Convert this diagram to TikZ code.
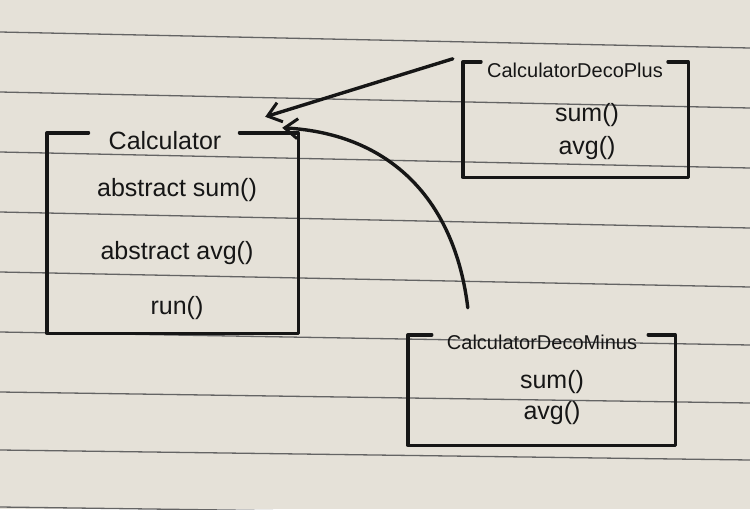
\documentclass[tikz,border=0pt]{standalone}
\usepackage{fontspec}
\setmainfont{Liberation Sans}
\usetikzlibrary{arrows.meta,calc}
\definecolor{paper}{RGB}{229,225,216}
\definecolor{rulegray}{RGB}{100,100,100}
\definecolor{ink}{RGB}{22,22,22}
\begin{document}
\begin{tikzpicture}[x=1pt,y=-1pt,
  pen/.style={draw=ink,line width=3.4pt,line cap=round,line join=round},
  conn/.style={pen,-{Straight Barb[length=13pt,width=20pt,line width=3pt]}},
  boxnode/.style={draw=none,inner sep=0pt,minimum width=#1},
  titletext/.style={text=ink,inner sep=0pt,font=\fontsize{20}{24}\selectfont},
  itemtext/.style={text=ink,inner sep=0pt,font=\fontsize{25}{29}\selectfont}]
\fill[paper] (0,0) rectangle (750,509);
\useasboundingbox (0,0) rectangle (750,509);
% ruled paper lines
\foreach \l/\r in {32/48,92/108,152/168,212/228,272/287,332/345,392/403,450/460,507/517}
  \draw[rulegray,line width=1.3pt] (0,\l) -- (750,\r);

% Calculator
\node[boxnode=251pt,minimum height=200pt] (calc) at (172.5,233) {};
\node[titletext,font=\fontsize{25}{29}\selectfont] (calcT) at (165,141) {Calculator};
\node[itemtext] (calcA) at (177,190) {abstract sum()};
\node[itemtext] (calcB) at (177,253) {abstract avg()};
\node[itemtext] (calcC) at (177,308) {run()};
\draw[pen] ($(calcT.west |- calc.north)+(-20,0)$) -| (calc.south west) -| (calc.north east)
  -- ($(calcT.east |- calc.north)+(18,0)$);

% CalculatorDecoPlus
\node[boxnode=225pt,minimum height=115pt] (plus) at (575.5,119.5) {};
\node[titletext] (plusT) at (575,70) {CalculatorDecoPlus};
\node[itemtext] (plusA) at (587,115) {sum()};
\node[itemtext] (plusB) at (587,148) {avg()};
\draw[pen] ($(plusT.west |- plus.north)+(-6,0)$) -| (plus.south west) -| (plus.north east)
  -- ($(plusT.east |- plus.north)+(5,0)$);

% CalculatorDecoMinus
\node[boxnode=267pt,minimum height=110pt] (minus) at (541.5,390) {};
\node[titletext] (minusT) at (542,342) {CalculatorDecoMinus};
\node[itemtext] (minusA) at (552,382) {sum()};
\node[itemtext] (minusB) at (552,413) {avg()};
\draw[pen] ($(minusT.west |- minus.north)+(-15,0)$) -| (minus.south west) -| (minus.north east)
  -- ($(minusT.east |- minus.north)+(11,0)$);

% connectors
\coordinate (s1) at ($(plus.north west)+(-10,-3)$);
\coordinate (t1) at ($(calc.north east)+(-33,-16)$);
\coordinate (s2) at ($(minus.north west)+(60,-27)$);
\coordinate (t2) at ($(calc.north east)+(-16,-5)$);
\draw[conn] (s1) -- (t1);
\draw[conn] (s2) .. controls ($(s2)+(-13,-108)$) and ($(t2)+(108,6)$) .. (t2);
\end{tikzpicture}
\end{document}
